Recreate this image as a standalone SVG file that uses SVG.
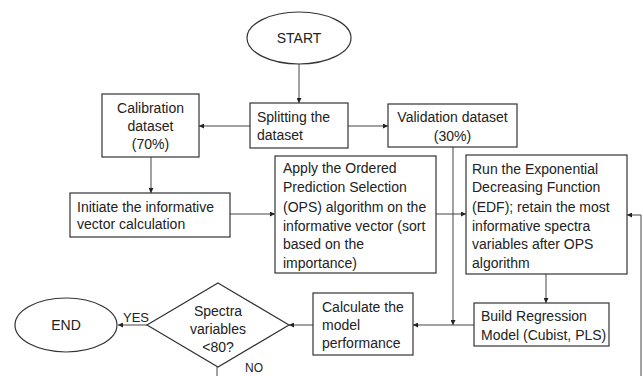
<svg xmlns="http://www.w3.org/2000/svg" width="643" height="376" viewBox="0 0 643 376">
<style>
.box{fill:#fff;stroke:#333;stroke-width:1.2}
.ln{fill:none;stroke:#444;stroke-width:1}
text{font-family:"Liberation Sans",Arial,sans-serif;font-size:14px;fill:#222}
.c{text-anchor:middle}
</style>
<defs>
<marker id="ah" viewBox="0 0 10 10" refX="10" refY="5" markerWidth="5" markerHeight="5" orient="auto" markerUnits="userSpaceOnUse">
<path d="M0,0 L10,5 L0,10 z" fill="#222"/>
</marker>
</defs>
<rect width="643" height="376" fill="#fff"/>
<g id="connectors">
<path class="ln" d="M299,64 V103" marker-end="url(#ah)"/>
<path class="ln" d="M250,126 H199" marker-end="url(#ah)"/>
<path class="ln" d="M348,126 H388" marker-end="url(#ah)"/>
<path class="ln" d="M151,157 V193" marker-end="url(#ah)"/>
<path class="ln" d="M230,214 H275" marker-end="url(#ah)"/>
<path class="ln" d="M436,214 H466" marker-end="url(#ah)"/>
<path class="ln" d="M453,147 V325" marker-end="url(#ah)"/>
<path class="ln" d="M546,274 V303" marker-end="url(#ah)"/>
<path class="ln" d="M474,325 H413" marker-end="url(#ah)"/>
<path class="ln" d="M313,325 H289" marker-end="url(#ah)"/>
<path class="ln" d="M147,325 H118" marker-end="url(#ah)"/>
<path class="ln" d="M217,367 V376"/>
<path class="ln" d="M641,376 V215 H627" marker-end="url(#ah)"/>
<text x="123" y="322" style="font-size:13px">YES</text>
<text x="245" y="372" style="font-size:12px">NO</text>
</g>
<g id="start">
<ellipse class="box" cx="299" cy="38" rx="52" ry="26"/>
<text class="c" x="299" y="43">START</text>
</g>
<g id="split">
<rect class="box" x="250" y="103" width="98" height="45"/>
<text x="257" y="122">Splitting the</text>
<text x="257" y="140">dataset</text>
</g>
<g id="calib">
<rect class="box" x="102" y="94" width="97" height="63"/>
<text class="c" x="150.5" y="113">Calibration</text>
<text class="c" x="150.5" y="131">dataset</text>
<text class="c" x="150.5" y="149">(70%)</text>
</g>
<g id="valid">
<rect class="box" x="388" y="104" width="129" height="43"/>
<text class="c" x="452.5" y="122">Validation dataset</text>
<text class="c" x="452.5" y="141">(30%)</text>
</g>
<g id="init">
<rect class="box" x="70" y="193" width="160" height="44"/>
<text x="77" y="212">Initiate the informative</text>
<text x="77" y="229">vector calculation</text>
</g>
<g id="ops">
<rect class="box" x="275" y="156" width="161" height="117"/>
<text x="283" y="173">Apply the Ordered</text>
<text x="283" y="192">Prediction Selection</text>
<text x="283" y="212">(OPS) algorithm on the</text>
<text x="283" y="231">informative vector (sort</text>
<text x="283" y="249">based on the</text>
<text x="283" y="268">importance)</text>
</g>
<g id="edf">
<rect class="box" x="466" y="155" width="161" height="119"/>
<text x="472" y="174">Run the Exponential</text>
<text x="472" y="192">Decreasing Function</text>
<text x="472" y="212">(EDF); retain the most</text>
<text x="472" y="231">informative spectra</text>
<text x="472" y="249">variables after OPS</text>
<text x="472" y="268">algorithm</text>
</g>
<g id="build">
<rect class="box" x="474" y="303" width="135" height="43"/>
<text x="481" y="321">Build Regression</text>
<text x="481" y="340">Model (Cubist, PLS)</text>
</g>
<g id="calc">
<rect class="box" x="313" y="293" width="100" height="62"/>
<text x="322" y="312">Calculate the</text>
<text x="322" y="330">model</text>
<text x="322" y="348">performance</text>
</g>
<g id="decision">
<polygon class="box" points="218,283 289,325 218,367 147,325"/>
<text class="c" x="218" y="316">Spectra</text>
<text class="c" x="218" y="334">variables</text>
<text class="c" x="218" y="352">&lt;80?</text>
</g>
<g id="end">
<ellipse class="box" cx="66" cy="325" rx="51" ry="27"/>
<text class="c" x="66" y="330">END</text>
</g>
</svg>
